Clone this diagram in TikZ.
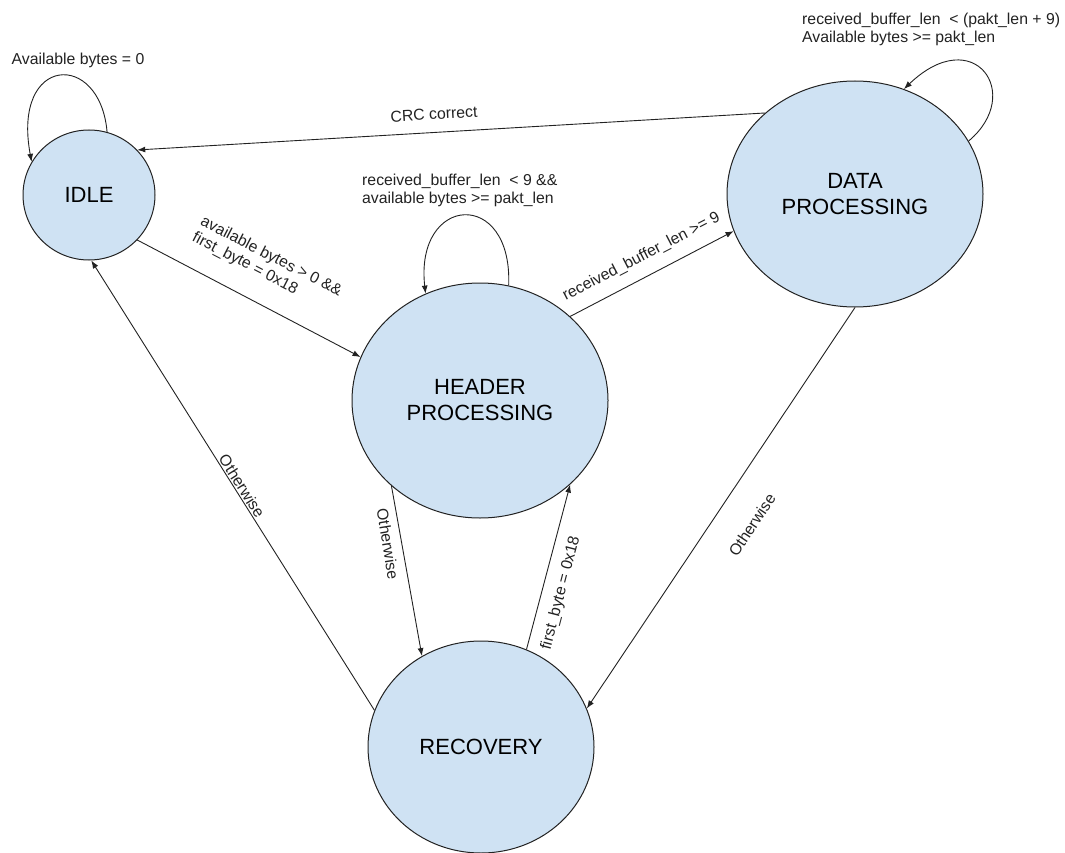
\documentclass[tikz,border=0pt]{standalone}
\usepackage{fontspec}
\setmainfont{Liberation Sans}
\usetikzlibrary{shapes.geometric,arrows.meta}

\definecolor{statefill}{HTML}{CFE2F3}
\definecolor{inkline}{HTML}{222222}

\begin{document}
\begin{tikzpicture}[x=1pt,y=-1pt,
  state/.style={ellipse, draw=inkline, line width=1pt, fill=statefill,
    inner sep=0pt, align=center, font=\fontsize{22}{26}\selectfont},
  trans/.style={draw=inkline, line width=0.9pt,
    -{Latex[length=8pt,width=6pt]}},
  lbl/.style={font=\fontsize{15.8}{18}\selectfont, inner sep=0pt, text=inkline}
]
\useasboundingbox (0,0) rectangle (1065,853);

% states
\node[state, minimum width=132pt, minimum height=130pt] (idle) at (89,195) {IDLE};
\node[state, minimum width=256pt, minimum height=235pt] (header) at (480,400.5) {HEADER\\PROCESSING};
\node[state, minimum width=256pt, minimum height=226pt] (data) at (855,194) {DATA\\PROCESSING};
\node[state, minimum width=226pt, minimum height=212pt] (recovery) at (481,747) {RECOVERY};

% transitions
\draw[trans] (idle.74) .. controls +(-7,-82) and +(-20,-107) .. (idle.150);
\draw[trans] (data.138) -- (idle.43);
\draw[trans] (idle.-43) -- (header.160);
\draw[trans] (header.76) .. controls +(4,-98) and +(-11,-99) .. (header.117);
\draw[trans] (header.43) -- (data.197);
\draw[trans] (data.25) .. controls +(56,-47) and +(70,-67) .. (data.65);
\draw[trans] (data.-90.5) -- (recovery.20);
\draw[trans] (header.-136) -- (recovery.123);
\draw[trans] (recovery.65) -- (header.-43.5);
\draw[trans] (recovery.161) -- (idle.-88);

% transition labels
\node[lbl] (lidle) at (78,60) {Available bytes = 0};
\node[lbl, rotate=3.4] (lcrc) at (434,114) {CRC correct};
\node[lbl, rotate=-27.4, align=left] (lstart) at (267,265)
  {available bytes > 0 \&\&\\first\_byte = 0x18};
\node[lbl, anchor=west, align=left] (lhloop) at (362,190.5)
  {received\_buffer\_len\ \ < 9 \&\&\\available bytes >= pakt\_len};
\node[lbl, anchor=west, align=left] (ldloop) at (802,29.5)
  {received\_buffer\_len\ \ < (pakt\_len + 9)\\Available bytes >= pakt\_len};
\node[lbl, rotate=27.4] (lhd) at (641.5,257) {received\_buffer\_len >= 9};
\node[lbl, rotate=56.4] (ldr) at (752,525) {Otherwise};
\node[lbl, rotate=-80.8] (lhr) at (388,544) {Otherwise};
\node[lbl, rotate=75.5] (lrh) at (561,593) {first\_byte = 0x18};
\node[lbl, rotate=-57.7] (lri) at (242,486) {Otherwise};
\end{tikzpicture}
\end{document}
